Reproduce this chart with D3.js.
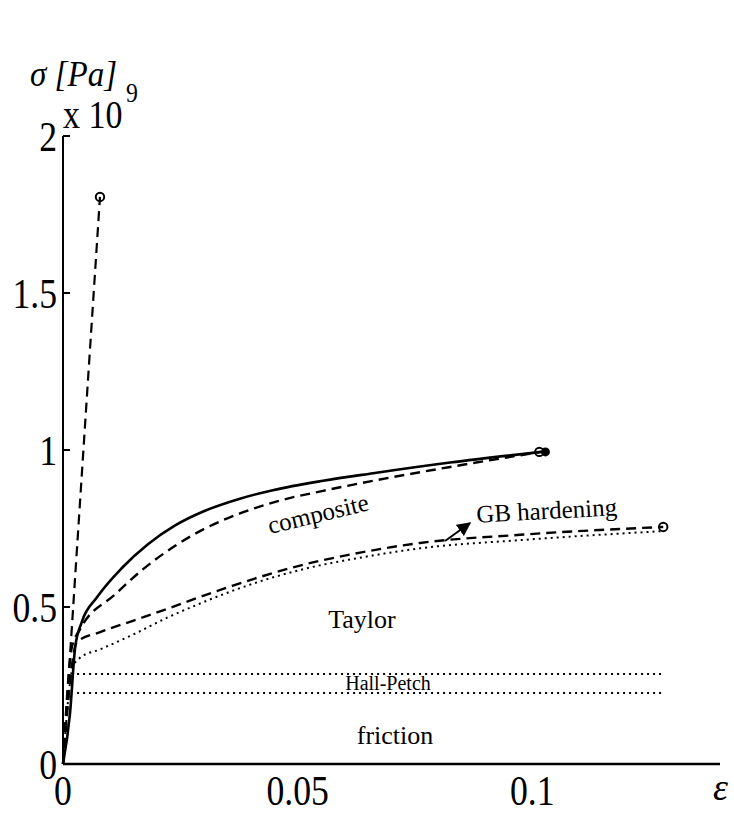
<html>
<head>
<script src="https://d3js.org/d3.v7.min.js"></script>
<style>
  body { margin: 0; background: #fff; }
  text { font-family: "Liberation Serif", "Times New Roman", serif; fill: #000; }
</style>
</head>
<body>
<script>
// strain (-) vs stress (x 1e9 Pa)
const steep = [[0, 0], [0.0040, 0.92], [0.00788, 1.806]];
const composite = [[0, 0], [0.0015, 0.162], [0.0026, 0.373], [0.0040, 0.452], [0.0072, 0.530],
  [0.0126, 0.625], [0.0181, 0.700], [0.0239, 0.760], [0.0300, 0.805], [0.0377, 0.845], [0.0447, 0.872],
  [0.0554, 0.902], [0.0661, 0.926], [0.0825, 0.960], [0.1019, 0.994]];
const compositeDash = [[0, 0], [0.0019, 0.373], [0.0036, 0.428], [0.0111, 0.540], [0.0168, 0.617],
  [0.0239, 0.695], [0.0300, 0.748], [0.0377, 0.798], [0.0460, 0.838], [0.0554, 0.870], [0.0661, 0.902],
  [0.0825, 0.946], [0.1019, 0.994]];
const gbHardening = [[0, 0], [0.0030, 0.389], [0.0079, 0.420], [0.0149, 0.456], [0.0222, 0.494],
  [0.0292, 0.532], [0.0362, 0.568], [0.0505, 0.632], [0.0633, 0.673], [0.0761, 0.704],
  [0.0974, 0.730], [0.1279, 0.755]];
const taylor = [[0, 0], [0.0021, 0.309], [0.0036, 0.338], [0.0079, 0.365], [0.0149, 0.412],
  [0.0222, 0.466], [0.0292, 0.511], [0.0362, 0.552], [0.0505, 0.618], [0.0633, 0.657],
  [0.0761, 0.687], [0.0974, 0.713], [0.1281, 0.742]];
const hallPetchTop = [[0.003, 0.287], [0.128, 0.287]];
const frictionLine = [[0.003, 0.226], [0.128, 0.226]];
const openMarks = [[0.00788, 1.806], [0.1015, 0.994], [0.1279, 0.755]];
const filledMarks = [[0.1028, 0.994]];

const xTicks = [0, 0.05, 0.1];
const xTickLabels = ["0", "0.05", "0.1"];
const yTicks = [0, 0.5, 1, 1.5, 2];
const yTickLabels = ["0", "0.5", "1", "1.5", "2"];

const W = 734, H = 813;
const x = d3.scaleLinear().domain([0, 0.14]).range([63, 720]);
const y = d3.scaleLinear().domain([0, 2]).range([764, 136]);

const svg = d3.select("body").append("svg").attr("width", W).attr("height", H);

svg.append("defs").append("marker")
  .attr("id", "arr").attr("viewBox", "0 0 10 10").attr("refX", 9).attr("refY", 5)
  .attr("markerWidth", 7).attr("markerHeight", 7).attr("orient", "auto")
  .append("path").attr("d", "M0,0 L10,5 L0,10 z").attr("fill", "#000");

const line = d3.line().x(d => x(d[0])).y(d => y(d[1])).curve(d3.curveMonotoneX);

function draw(data, dash, w) {
  svg.append("path").datum(data).attr("d", line)
    .attr("fill", "none").attr("stroke", "#000").attr("stroke-width", w)
    .attr("stroke-dasharray", dash);
}
draw(hallPetchTop, "2,4", 2);
draw(frictionLine, "2,4", 2);
draw(taylor, "2,4", 2);
draw(gbHardening, "10,6", 2.4);
draw(compositeDash, "10,6", 2.4);
draw(composite, null, 2.6);
draw(steep, "10,6", 2.2);

svg.selectAll(".om").data(openMarks).enter().append("circle")
  .attr("cx", d => x(d[0])).attr("cy", d => y(d[1])).attr("r", 4.2)
  .attr("fill", "none").attr("stroke", "#000").attr("stroke-width", 2);
svg.selectAll(".fm").data(filledMarks).enter().append("circle")
  .attr("cx", d => x(d[0])).attr("cy", d => y(d[1])).attr("r", 4.5)
  .attr("fill", "#000");

// axes
svg.append("line").attr("x1", x(0)).attr("x2", x(0)).attr("y1", y(0)).attr("y2", y(2))
  .attr("stroke", "#000").attr("stroke-width", 2);
svg.append("line").attr("x1", x(0)).attr("x2", x(0.14)).attr("y1", y(0)).attr("y2", y(0))
  .attr("stroke", "#000").attr("stroke-width", 2.5);
svg.selectAll(".yt").data(yTicks).enter().append("line")
  .attr("x1", x(0)).attr("x2", x(0) + 7).attr("y1", d => y(d)).attr("y2", d => y(d))
  .attr("stroke", "#000").attr("stroke-width", 2);

svg.selectAll(".yl").data(yTicks).enter().append("text")
  .attr("transform", d => `translate(57,${y(d) + 15}) scale(0.85,1)`)
  .attr("text-anchor", "end").style("font-size", "42px")
  .text((d, i) => yTickLabels[i]);
svg.selectAll(".xl").data(xTicks).enter().append("text")
  .attr("transform", d => `translate(${x(d)},805) scale(0.85,1)`)
  .attr("text-anchor", "middle").style("font-size", "42px")
  .text((d, i) => xTickLabels[i]);

// exponent and axis names
svg.append("text").attr("transform", "translate(63,128) scale(0.85,1)")
  .style("font-size", "40px").text("x 10");
svg.append("text").attr("transform", "translate(126,102) scale(0.85,1)")
  .style("font-size", "28px").text("9");
svg.append("text").attr("transform", "translate(30,86) scale(0.92,1)")
  .style("font-size", "36px").style("font-style", "italic").text("σ [Pa]");
svg.append("text").attr("transform", "translate(713,800)")
  .style("font-size", "38px").style("font-style", "italic").text("ε");

// curve labels
svg.append("text").attr("transform", "translate(320,522) rotate(-13.5)")
  .attr("text-anchor", "middle").style("font-size", "25px").text("composite");
svg.append("text").attr("transform", "translate(547,519) rotate(-3)")
  .attr("text-anchor", "middle").style("font-size", "25px").text("GB hardening");
svg.append("text").attr("x", 362).attr("y", 628)
  .attr("text-anchor", "middle").style("font-size", "26px").text("Taylor");
svg.append("text").attr("x", 388).attr("y", 690)
  .attr("text-anchor", "middle").style("font-size", "20px").text("Hall-Petch");
svg.append("text").attr("x", 395).attr("y", 744)
  .attr("text-anchor", "middle").style("font-size", "26px").text("friction");

svg.append("line").attr("x1", 445).attr("y1", 541).attr("x2", 470).attr("y2", 523)
  .attr("stroke", "#000").attr("stroke-width", 2).attr("marker-end", "url(#arr)");
</script>
</body>
</html>
